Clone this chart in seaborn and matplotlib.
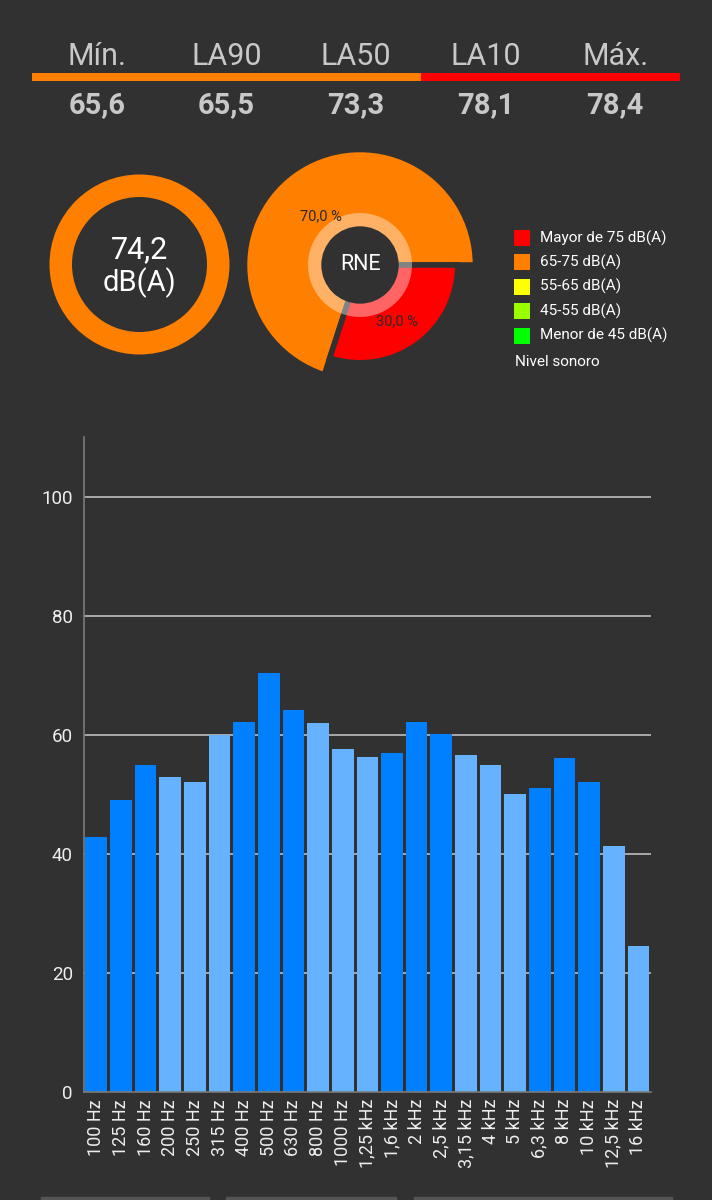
import numpy as np
import matplotlib
matplotlib.use("Agg")
import matplotlib.pyplot as plt
import seaborn as sns

#
# DATA
#

# summary row on top
stat_labels = ["Mín.", "LA90", "LA50", "LA10", "Máx."]
stat_values = [65.6, 65.5, 73.3, 78.1, 78.4]

# current level donut
level_value = 74.2
level_unit = "dB(A)"

# RNE pie (share of time per level class)
rne_classes = ["65-75 dB(A)", "Mayor de 75 dB(A)"]
rne_shares = [70.0, 30.0]
rne_title = "RNE"

# legend of level classes
legend_labels = ["Mayor de 75 dB(A)", "65-75 dB(A)", "55-65 dB(A)", "45-55 dB(A)", "Menor de 45 dB(A)"]
legend_colors = ["#FF0000", "#FF8000", "#FFFF00", "#99FF00", "#00FF00"]
legend_title = "Nivel sonoro"

# third-octave spectrum
bands = ["100 Hz", "125 Hz", "160 Hz", "200 Hz", "250 Hz", "315 Hz", "400 Hz", "500 Hz",
         "630 Hz", "800 Hz", "1000 Hz", "1,25 kHz", "1,6 kHz", "2 kHz", "2,5 kHz",
         "3,15 kHz", "4 kHz", "5 kHz", "6,3 kHz", "8 kHz", "10 kHz", "12,5 kHz", "16 kHz"]
band_levels = [42.8, 49.0, 54.9, 52.9, 52.0, 59.9, 62.1, 70.3, 64.2, 61.9, 57.6, 56.2,
               57.0, 62.2, 60.1, 56.6, 54.9, 50.0, 51.1, 56.1, 52.1, 41.3, 24.5]
band_shade = ["dark", "dark", "dark", "light", "light", "light", "dark", "dark", "dark",
              "light", "light", "light", "dark", "dark", "dark", "light", "light", "light",
              "dark", "dark", "dark", "light", "light"]
y_ticks = [0, 20, 40, 60, 80, 100]

#
# STYLE
#

BG = "#313131"
W, H = 712, 1200
shade_colors = {"dark": "#0080FF", "light": "#66B2FF"}

def level_color(v):
  if v > 75:
    return legend_colors[0]
  if v >= 65:
    return legend_colors[1]
  if v >= 55:
    return legend_colors[2]
  if v >= 45:
    return legend_colors[3]
  return legend_colors[4]

def fmt(v):
  return f"{v:.1f}".replace(".", ",")

sns.set_style("dark", {"axes.facecolor": BG, "figure.facecolor": BG})
plt.rcParams["font.family"] = ["Roboto", "DejaVu Sans"]

fig = plt.figure(figsize=(W / 100, H / 100), dpi=100)
fig.patch.set_facecolor(BG)

def px_axes(x0, y0, w, h):
  # axes placed with pixel coords (top-left origin)
  ax = fig.add_axes([x0 / W, 1 - (y0 + h) / H, w / W, h / H])
  ax.set_facecolor("none")
  ax.set_axis_off()
  return ax

#
# summary row
#
ax_s = px_axes(32, 30, 648, 90)
ax_s.set_xlim(-0.5, len(stat_labels) - 0.5)
ax_s.set_ylim(120, 30)
ax_s.bar(range(len(stat_values)), 8, bottom=73, width=1.0,
         color=[level_color(v) for v in stat_values], linewidth=0)
for i, (lab, val) in enumerate(zip(stat_labels, stat_values)):
  ax_s.text(i, 65, lab, ha="center", va="baseline", fontsize=22, color="#C8C8C8")
  ax_s.text(i, 113, fmt(val), ha="center", va="baseline", fontsize=21,
            fontweight="bold", color="#C8C8C8")

#
# level donut
#
ax_l = px_axes(39.5, 164.5, 200, 200)
ax_l.pie([level_value], colors=[level_color(level_value)], radius=90,
         wedgeprops=dict(width=22.5, linewidth=0))
ax_l.set_xlim(-100, 100)
ax_l.set_ylim(-100, 100)
ax_l.text(0, 6, fmt(level_value), ha="center", va="baseline", fontsize=22, color="white")
ax_l.text(0, -27, level_unit, ha="center", va="baseline", fontsize=21, color="white")

#
# RNE pie
#
ax_r = px_axes(230, 135, 260, 260)
rne_colors = [level_color(70), level_color(80)]
wedges, _ = ax_r.pie(rne_shares, colors=rne_colors, startangle=0, counterclock=True,
                     radius=115.5, wedgeprops=dict(linewidth=4, edgecolor=BG))
wedges[1].set_radius(97.8)
ax_r.pie([1], colors=["white"], radius=52, wedgeprops=dict(width=14, alpha=0.4, linewidth=0))
ax_r.add_patch(plt.Circle((0, 0), 38, color=BG, zorder=5))
ax_r.set_xlim(-130, 130)
ax_r.set_ylim(-130, 130)
ax_r.text(0, 0, rne_title, ha="center", va="center", fontsize=15.5, color="white", zorder=6)
start = 0.0
for share, dist in zip(rne_shares, [60, 70]):
  mid = np.deg2rad(start + share * 3.6 / 2)
  start += share * 3.6
  ax_r.text(dist * np.cos(mid) - 4, dist * np.sin(mid), fmt(share) + " %",
            ha="center", va="center", fontsize=10.5, color="#2a2a2a", zorder=6)

#
# legend
#
ax_g = px_axes(505, 220, 207, 155)
ax_g.set_xlim(505, 712)
ax_g.set_ylim(375, 220)
rows = 238 + 24.4 * np.arange(len(legend_labels))
ax_g.scatter([522] * len(legend_labels), rows, marker="s", s=132, c=legend_colors, linewidths=0)
for y, lab in zip(rows, legend_labels):
  ax_g.text(540.5, y, lab, ha="left", va="center", fontsize=11, color="white")
ax_g.text(515, 361.5, legend_title, ha="left", va="center", fontsize=11, color="white")

#
# spectrum bars
#
ax_b = fig.add_axes([84 / W, (H - 1092) / H, (650.7 - 84) / W, (1092 - 437) / H])
ax_b.set_facecolor(BG)
sns.barplot(x=bands, y=band_levels, hue=bands, palette=[shade_colors[s] for s in band_shade],
            legend=False, width=0.88, saturation=1, linewidth=0, ax=ax_b)
ax_b.set_xlim(-0.5, len(bands) - 0.5)
ax_b.set_ylim(0, 110)
ax_b.set_yticks(y_ticks)
ax_b.set_axisbelow(True)
ax_b.grid(False)
for t in y_ticks[1:]:
  ax_b.axhline(t, color="#BDBDBD", linewidth=1.2, zorder=0)
ax_b.set_xlabel("")
ax_b.set_ylabel("")
for side in ["top", "right"]:
  ax_b.spines[side].set_visible(False)
for side in ["left", "bottom"]:
  ax_b.spines[side].set_color("#7A7A7A")
  ax_b.spines[side].set_linewidth(1.2)
ax_b.tick_params(axis="y", length=0, pad=8, labelsize=13.5, labelcolor="#EEEEEE")
ax_b.tick_params(axis="x", length=0, pad=5, labelsize=13, labelcolor="#EEEEEE", rotation=90)

# partial buttons at the very bottom of the screen
for x0, x1 in [(41, 209), (226, 396), (414, 672)]:
  fig.add_artist(plt.Rectangle((x0 / W, 0), (x1 - x0) / W, 3.5 / H,
                               transform=fig.transFigure, color="#555555"))

fig.savefig("out.png", dpi=100, facecolor=BG)
